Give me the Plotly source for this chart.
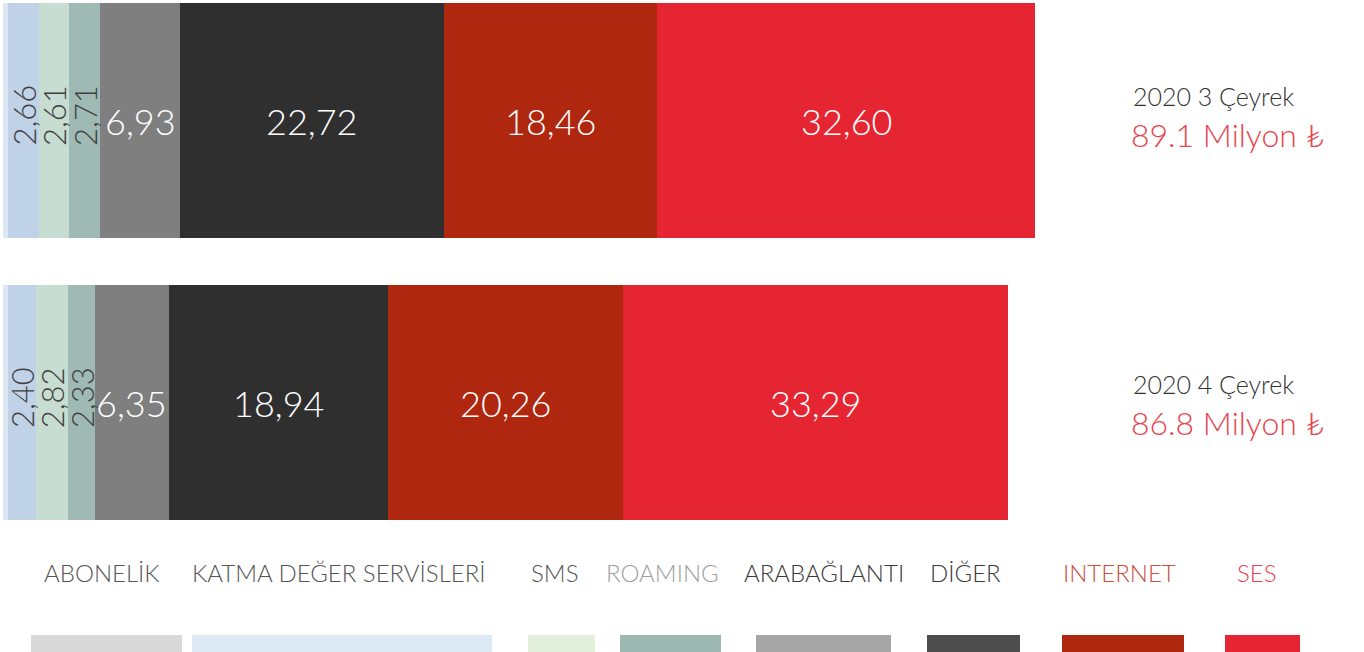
import plotly.graph_objects as go

# ---- data ----
periods = ["2020 3 Çeyrek", "2020 4 Çeyrek"]
totals = ["89.1 Milyon ₺", "86.8 Milyon ₺"]
segments = ["KATMA", "S1", "S2", "S3", "S4", "S5", "S6", "S7"]
seg_colors = ["#dce7f3", "#c0d2e8", "#c8ddd1", "#9fbab4", "#7f7f7f", "#2f2f2f", "#b0270f", "#e52632"]
values_q3 = [0.41, 2.66, 2.61, 2.71, 6.93, 22.72, 18.46, 32.60]
values_q4 = [0.41, 2.40, 2.82, 2.33, 6.35, 18.94, 20.26, 33.29]
labels_q3 = ["", "2,66", "2,61", "2,71", "6,93", "22,72", "18,46", "32,60"]
labels_q4 = ["", "2,40", "2,82", "2,33", "6,35", "18,94", "20,26", "33,29"]
label_vertical = [False, True, True, True, False, False, False, False]
label_colors = ["#404040", "#404040", "#404040", "#404040", "#ffffff", "#ffffff", "#ffffff", "#ffffff"]

legend_names = ["ABONELİK", "KATMA DEĞER SERVİSLERİ", "SMS", "ROAMING", "ARABAĞLANTI", "DİĞER", "INTERNET", "SES"]
legend_text_colors = ["#555555", "#555555", "#555555", "#a0a0a0", "#3a3a3a", "#3a3a3a", "#c8503c", "#e8444f"]
legend_swatch_colors = ["#d9d9d9", "#dde9f5", "#e2efda", "#9bb7b0", "#a6a6a6", "#4d4d4d", "#b0270f", "#e52632"]

W, H = 1364, 652
FONT = "Lato"

fig = go.Figure()
for i, name in enumerate(segments):
    fig.add_trace(go.Bar(
        y=periods, x=[values_q3[i], values_q4[i]], orientation="h",
        name=name, marker=dict(color=seg_colors[i], line=dict(width=0)),
        width=0.833, showlegend=False, hoverinfo="x",
    ))

annotations = []
for vals, labs, per in [(values_q3, labels_q3, periods[0]), (values_q4, labels_q4, periods[1])]:
    cum = 0.0
    for i, v in enumerate(vals):
        center = cum + v / 2
        cum += v
        if not labs[i]:
            continue
        if label_vertical[i]:
            annotations.append(dict(x=center, y=per, xref="x", yref="y", text=labs[i],
                                    textangle=-90, showarrow=False, yshift=5, xshift=1,
                                    font=dict(family=FONT, size=31, color=label_colors[i], weight=300)))
        else:
            annotations.append(dict(x=center, y=per, xref="x", yref="y", text=labs[i],
                                    showarrow=False, yshift=-1,
                                    font=dict(family=FONT, size=36, color=label_colors[i], weight=300)))

# right-side totals
for per, tot, ypx in [(periods[0], totals[0], 96), (periods[1], totals[1], 384)]:
    annotations.append(dict(x=1131 / W, y=1 - ypx / H, xref="paper", yref="paper", text=per,
                            xanchor="left", yanchor="middle", showarrow=False,
                            font=dict(family=FONT, size=25, color="#333333", weight=300)))
    annotations.append(dict(x=1129 / W, y=1 - (ypx + 38) / H, xref="paper", yref="paper", text=tot,
                            xanchor="left", yanchor="middle", showarrow=False,
                            font=dict(family=FONT, size=32, color="#e8444f", weight=300)))

# custom legend
legend_text_x = [102, 339, 554, 662, 824, 965, 1119, 1257]
legend_swatch = [(31, 182), (192, 492), (528, 595), (620, 721), (756, 891), (927, 1020), (1062, 1184), (1225, 1300)]
shapes = []
for i, nm in enumerate(legend_names):
    annotations.append(dict(x=legend_text_x[i] / W, y=1 - 572 / H, xref="paper", yref="paper", text=nm,
                            xanchor="center", yanchor="middle", showarrow=False,
                            font=dict(family=FONT, size=24, color=legend_text_colors[i], weight=300)))
    x0, x1 = legend_swatch[i]
    shapes.append(dict(type="rect", xref="paper", yref="paper", x0=x0 / W, x1=x1 / W,
                       y0=0, y1=1 - 635 / H, fillcolor=legend_swatch_colors[i], line=dict(width=0)))

s = 11.58
fig.update_layout(
    barmode="stack", width=W, height=H,
    margin=dict(l=0, r=0, t=0, b=0),
    paper_bgcolor="white", plot_bgcolor="white",
    xaxis=dict(range=[-3 / s, (W - 3) / s], visible=False, fixedrange=True),
    yaxis=dict(range=[1.885, -0.427], visible=False, fixedrange=True, type="category"),
    annotations=annotations, shapes=shapes, bargap=0,
)
fig.write_html("out.html", config={"displayModeBar": False},
               post_script="document.body.style.margin='0';")
